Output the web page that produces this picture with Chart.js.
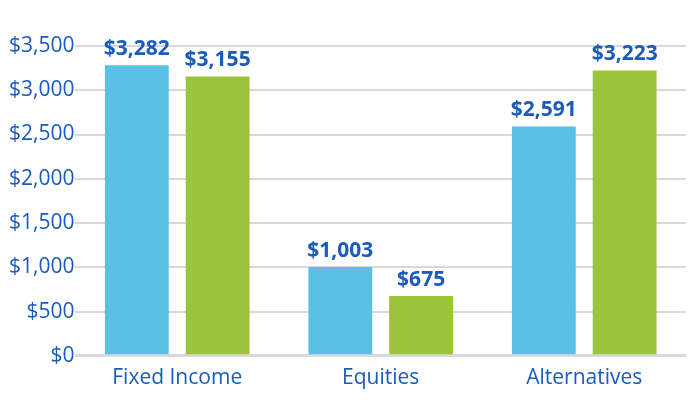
<!DOCTYPE html>
<html>
<head>
<meta charset="utf-8">
<script src="https://cdn.jsdelivr.net/npm/chart.js@4"></script>
<style>
  html, body { margin: 0; padding: 0; background: #fff; }
  #wrap { width: 699px; height: 414px; }
</style>
</head>
<body>
<div id="wrap"><canvas id="assetChart"></canvas></div>
<script>
// data
const categories = ['Fixed Income', 'Equities', 'Alternatives'];
const seriesBlue = [3282, 1003, 2591];
const seriesGreen = [3155, 675, 3223];
const yTicks = [0, 500, 1000, 1500, 2000, 2500, 3000, 3500];

const textColor = '#1a5bbb';
const money = v => '$' + v.toLocaleString('en-US');

// value labels above bars
const barLabels = {
  id: 'barLabels',
  afterDatasetsDraw(chart) {
    const ctx = chart.ctx;
    ctx.save();
    ctx.font = 'bold 21px "Open Sans"';
    ctx.fillStyle = textColor;
    ctx.textAlign = 'center';
    ctx.textBaseline = 'bottom';
    chart.data.datasets.forEach((ds, i) => {
      chart.getDatasetMeta(i).data.forEach((bar, j) => {
        ctx.fillText(money(ds.data[j]), bar.x, bar.y - 6);
      });
    });
    ctx.restore();
  }
};

const ctxAssets = document.getElementById('assetChart').getContext('2d');
new Chart(ctxAssets, {
  type: 'bar',
  data: {
    labels: categories,
    datasets: [{
      data: seriesBlue,
      backgroundColor: '#5bc0e6',
      barPercentage: 0.79,
      categoryPercentage: 0.794
    }, {
      data: seriesGreen,
      backgroundColor: '#9bc33c',
      barPercentage: 0.79,
      categoryPercentage: 0.794
    }]
  },
  options: {
    responsive: true,
    maintainAspectRatio: false,
    animation: false,
    layout: { padding: { top: 46, right: 13, left: 8, bottom: 21 } },
    plugins: {
      legend: { display: false },
      tooltip: { enabled: false }
    },
    scales: {
      x: {
        grid: { display: false },
        border: { display: false },
        ticks: {
          color: textColor,
          font: { family: '"Open Sans"', size: 21 },
          padding: 2
        }
      },
      y: {
        min: 0,
        max: 3500,
        afterBuildTicks: axis => { axis.ticks = yTicks.map(v => ({ value: v })); },
        border: { display: false },
        grid: {
          color: '#d9d9d9',
          lineWidth: c => c.tick && c.tick.value === 0 ? 3 : 2,
          drawTicks: false
        },
        ticks: {
          color: textColor,
          font: { family: '"Open Sans"', size: 21 },
          padding: 1,
          callback: v => money(v)
        }
      }
    }
  },
  plugins: [barLabels]
});
</script>
</body>
</html>
